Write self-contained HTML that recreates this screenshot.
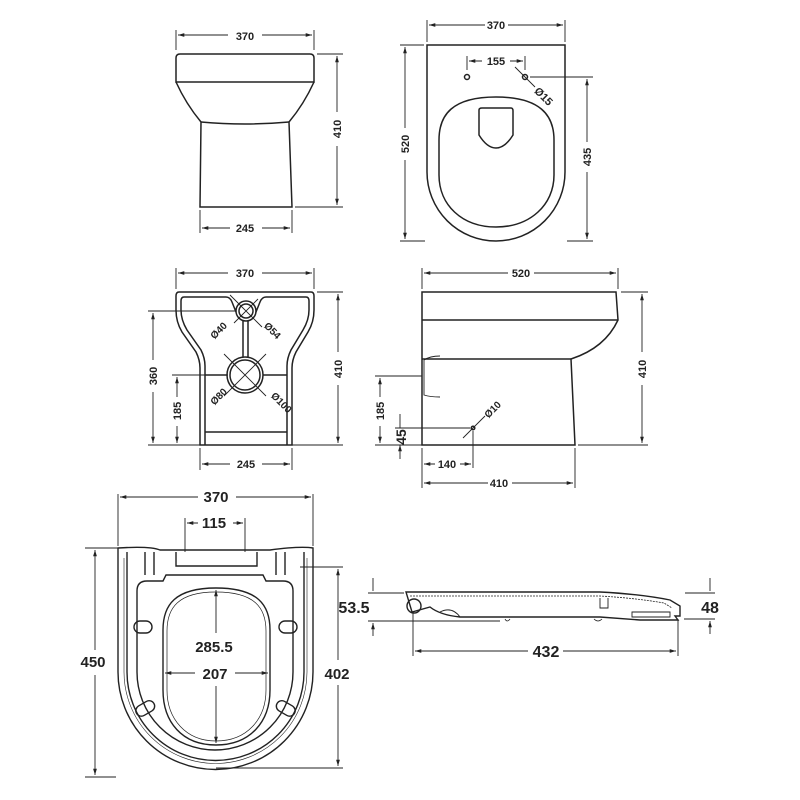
<!DOCTYPE html>
<html><head><style>
body{margin:0;background:#fff}
svg{display:block}
text{font-family:"Liberation Sans",sans-serif;font-weight:bold;fill:#222}
</style></head><body>
<svg width="800" height="800" viewBox="0 0 800 800" xmlns="http://www.w3.org/2000/svg">
<defs>
<marker id="a" viewBox="0 0 10 10" refX="10" refY="5" markerWidth="7" markerHeight="7" orient="auto-start-reverse"><path d="M0,2 L10,5 L0,8z" fill="#222"/></marker>
</defs>
<g stroke="#222" stroke-width="1.5" fill="none">
<path d="M180,54 H310 Q314,54 314,58 V82 H176 V58 Q176,54 180,54 Z"/>
<path d="M176,82 Q186,104 201,122 L200,207 H292 L289,122 Q304,104 314,82"/>
<path d="M201,122 Q245,126 289,122"/>
</g>
<g stroke="#222" stroke-width="0.9" fill="none">
<path d="M176,30 V50 M314,30 V50"/>
<path d="M178,35 H228 M262,35 H312" marker-start="url(#a)" marker-end="url(#a)"/>
<path d="M317,54 H343 M295,207 H343"/>
<path d="M337,56 V112 M337,146 V205" marker-start="url(#a)" marker-end="url(#a)"/>
<path d="M200,210 V233 M292,210 V233"/>
<path d="M202,228 H230 M262,228 H290" marker-start="url(#a)" marker-end="url(#a)"/>
</g>
<text x="245" y="40" font-size="11" text-anchor="middle">370</text>
<text x="245" y="232" font-size="11" text-anchor="middle">245</text>
<text transform="translate(341,129) rotate(-90)" font-size="11" text-anchor="middle">410</text>

<g stroke="#222" stroke-width="1.5" fill="none">
<path d="M427,45 H565 V172 A69,69 0 0 1 427,172 Z"/>
<path d="M496,97 C540,97 554,115 554,140 V175 C554,205 530,227 496,227 C462,227 439,205 439,175 V140 C439,115 452,97 496,97 Z"/>
<path d="M479,110 Q479,108 482,108 H511 Q513,108 513,111 V135 Q505,148 496,148 Q487,148 479,135 Z"/>
<circle cx="467" cy="77" r="2.5"/><circle cx="525" cy="77" r="2.5"/>
</g>
<g stroke="#222" stroke-width="0.9" fill="none">
<path d="M427,20 V42 M565,20 V42"/>
<path d="M429,25 H485 M508,25 H563" marker-start="url(#a)" marker-end="url(#a)"/>
<path d="M467,56 V70 M525,56 V70"/>
<path d="M469,61 H482 M510,61 H523" marker-start="url(#a)" marker-end="url(#a)"/>
<path d="M515,67 L535,87"/>
<path d="M400,45 H424 M400,241 H425"/>
<path d="M405,47 V128 M405,160 V239" marker-start="url(#a)" marker-end="url(#a)"/>
<path d="M530,77 H593 M567,241 H593"/>
<path d="M587,79 V142 M587,172 V239" marker-start="url(#a)" marker-end="url(#a)"/>
</g>
<text x="496" y="29" font-size="11" text-anchor="middle">370</text>
<text x="496" y="65" font-size="11" text-anchor="middle">155</text>
<text transform="translate(541,99) rotate(45)" font-size="11" text-anchor="middle">Ø15</text>
<text transform="translate(409,144) rotate(-90)" font-size="11" text-anchor="middle">520</text>
<text transform="translate(591,157) rotate(-90)" font-size="11" text-anchor="middle">435</text>

<g stroke="#222" stroke-width="1.5" fill="none">
<path d="M179,292 H311 Q314,292 314,296 V310 Q314,322 308,332 L296,352 Q292,360 292,368 V445 H200 V368 Q200,360 196,352 L182,332 Q176,322 176,310 V296 Q176,292 179,292 Z"/>
<path d="M184,297 H226 Q230,297 232,302 L236,312 M256,312 L260,302 Q262,297 266,297 H306 Q309,297 309,301 V310 Q309,320 303,330 L291,350 Q287,358 287,366 V445 M205,445 V366 Q205,358 201,350 L187,330 Q181,320 181,310 V301 Q181,297 184,297"/>
<path d="M205,432 H287"/>
<circle cx="246" cy="311" r="10"/><circle cx="246" cy="311" r="7"/>
<circle cx="245" cy="375" r="18"/><circle cx="245" cy="375" r="15"/>
<path d="M243,321 V357 M248,321 V357"/>
<path d="M205,375 H227 M263,375 H287"/>
</g>
<g stroke="#222" stroke-width="0.9" fill="none">
<path d="M234,299 L258,323 M258,299 L234,323 M230,295 L262,327"/>
<path d="M224,354 L266,396 M266,354 L224,396"/>
<path d="M176,268 V289 M314,268 V289"/>
<path d="M178,273 H228 M262,273 H312" marker-start="url(#a)" marker-end="url(#a)"/>
<path d="M148,311 H236 M172,375 H228 M148,445 H200 M292,445 H343 M317,292 H343"/>
<path d="M153,313 V360 M153,392 V443" marker-start="url(#a)" marker-end="url(#a)"/>
<path d="M177,377 V397 M177,426 V443" marker-start="url(#a)" marker-end="url(#a)"/>
<path d="M338,294 V352 M338,385 V443" marker-start="url(#a)" marker-end="url(#a)"/>
<path d="M200,448 V470 M292,448 V470"/>
<path d="M202,464 H230 M262,464 H290" marker-start="url(#a)" marker-end="url(#a)"/>
</g>
<text x="245" y="277" font-size="11" text-anchor="middle">370</text>
<text x="246" y="468" font-size="11" text-anchor="middle">245</text>
<text transform="translate(157,376) rotate(-90)" font-size="11" text-anchor="middle">360</text>
<text transform="translate(181,411) rotate(-90)" font-size="11" text-anchor="middle">185</text>
<text transform="translate(342,369) rotate(-90)" font-size="11" text-anchor="middle">410</text>
<text transform="translate(221,333) rotate(-45)" font-size="10" text-anchor="middle">Ø40</text>
<text transform="translate(270,333) rotate(45)" font-size="10" text-anchor="middle">Ø54</text>
<text transform="translate(221,399) rotate(-45)" font-size="10" text-anchor="middle">Ø80</text>
<text transform="translate(279,405) rotate(45)" font-size="10" text-anchor="middle">Ø100</text>

<g stroke="#222" stroke-width="1.5" fill="none">
<path d="M422,292 H616 L618,320 Q605,348 571,359 L575,445 H422 Z"/>
<path d="M422,320 H618 M422,359 H571"/>
<path d="M424,360 Q430,356 440,356 M424,360 V395 Q430,397 440,397" stroke-width="0.9"/>
<circle cx="473" cy="428" r="1.8"/>
</g>
<g stroke="#222" stroke-width="0.9" fill="none">
<path d="M422,268 V289 M618,268 V289"/>
<path d="M424,273 H508 M534,273 H616" marker-start="url(#a)" marker-end="url(#a)"/>
<path d="M621,292 H648 M578,445 H648"/>
<path d="M642,294 V352 M642,385 V443" marker-start="url(#a)" marker-end="url(#a)"/>
<path d="M375,376 H422 M375,445 H422 M395,428 H470"/>
<path d="M380,378 V397 M380,426 V443" marker-start="url(#a)" marker-end="url(#a)"/>
<path d="M400,414 V428 M400,459 V445" marker-end="url(#a)"/>
<path d="M463,438 L485,416"/>
<path d="M422,448 V488 M473,431 V468 M575,448 V488"/>
<path d="M424,464 H435 M460,464 H471" marker-start="url(#a)" marker-end="url(#a)"/>
<path d="M424,483 H488 M512,483 H573" marker-start="url(#a)" marker-end="url(#a)"/>
</g>
<text x="521" y="277" font-size="11" text-anchor="middle">520</text>
<text x="447" y="468" font-size="11" text-anchor="middle">140</text>
<text x="499" y="487" font-size="11" text-anchor="middle">410</text>
<text transform="translate(646,369) rotate(-90)" font-size="11" text-anchor="middle">410</text>
<text transform="translate(384,411) rotate(-90)" font-size="11" text-anchor="middle">185</text>
<text transform="translate(406,437) rotate(-90)" font-size="14" text-anchor="middle" font-weight="normal">45</text>
<text transform="translate(495,412) rotate(-45)" font-size="10" text-anchor="middle">Ø10</text>

<g stroke="#222" stroke-width="1.4" fill="none">
<path d="M118,548 Q150,546 160,550 H270 Q300,546 313,548 V672 A97.5,97.5 0 0 1 118,672 Z"/>
<path d="M127,552 V672 A88,88 0 0 0 304,672 V552"/>
<path d="M124,558 V672 A91,91 0 0 0 307,672 V558" stroke-width="0.6"/>
<path d="M147,581 Q137,581 137,591 V672 A78,78 0 0 0 293,672 V591 Q293,581 283,581 H266 L263,575 H166 L163,581 Z"/>
<path d="M145,552 V575 M154,552 V575 M276,552 V575 M285,552 V575"/>
<path d="M176,552 V566 H257 V552"/>
<path d="M216,588 C258,588 270,605 270,630 V690 C270,722 250,745 216,745 C182,745 163,722 163,690 V630 C163,605 175,588 216,588 Z"/>
<path d="M216,592 C255,592 266,608 266,631 V690 C266,719 247,741 216,741 C186,741 167,719 167,690 V631 C167,608 178,592 216,592 Z" stroke-width="0.7"/>
<rect x="134" y="621" width="18" height="12" rx="6"/>
<rect x="279" y="621" width="18" height="12" rx="6"/>
<rect x="135" y="703" width="20" height="11" rx="5.5" transform="rotate(-30 145 708)"/>
<rect x="276" y="703" width="20" height="11" rx="5.5" transform="rotate(30 286 708)"/>
</g>
<g stroke="#222" stroke-width="0.9" fill="none">
<path d="M118,494 V546 M313,494 V546"/>
<path d="M120,497 H198 M236,497 H311" marker-start="url(#a)" marker-end="url(#a)"/>
<path d="M185,518 V552 M245,518 V552"/>
<path d="M187,523 H198 M233,523 H243" marker-start="url(#a)" marker-end="url(#a)"/>
<path d="M85,548 H118 M85,777 H116 M300,567 H343 M216,768 H343"/>
<path d="M95,550 V650 M95,675 V775" marker-start="url(#a)" marker-end="url(#a)"/>
<path d="M338,569 V660 M338,685 V766" marker-start="url(#a)" marker-end="url(#a)"/>
<path d="M216,590 V633 M216,686 V743" marker-start="url(#a)" marker-end="url(#a)"/>
<path d="M165,673 H195 M235,673 H268" marker-start="url(#a)" marker-end="url(#a)"/>
</g>
<text x="216" y="502" font-size="15" text-anchor="middle" font-weight="normal">370</text>
<text x="214" y="528" font-size="15" text-anchor="middle" font-weight="normal">115</text>
<text x="93" y="667" font-size="15" text-anchor="middle" font-weight="normal">450</text>
<text x="337" y="679" font-size="15" text-anchor="middle" font-weight="normal">402</text>
<text x="214" y="652" font-size="15" text-anchor="middle" font-weight="normal">285.5</text>
<text x="215" y="679" font-size="15" text-anchor="middle" font-weight="normal">207</text>

<g stroke="#222" stroke-width="1.4" fill="none">
<path d="M406,592 H600 Q640,594 670,600 L680,606 V616 H675 L678,620 H640 L600,617 H460 Q440,615 430,607 L412,612 Z"/>
<path d="M410,596 H600 Q635,598 664,603 L672,608" stroke-width="0.8" stroke-dasharray="2,1"/>
<path d="M600,598 V608 H608 V598" stroke-width="0.9"/>
<circle cx="414" cy="606" r="7"/>
<path d="M632,612 H670 V617 H632 Z" stroke-width="0.9"/>
<path d="M440,612 Q452,606 460,617" stroke-width="0.9"/>
<path d="M505,619 Q507,623 510,619 M594,619 Q598,623 602,619" stroke-width="0.8"/>
</g>
<g stroke="#222" stroke-width="0.9" fill="none">
<path d="M368,593 H404 M368,621 H500 M685,593 H715 M684,619 H715"/>
<path d="M373,578 V591 M373,636 V623" marker-end="url(#a)"/>
<path d="M710,578 V591 M710,634 V621" marker-end="url(#a)"/>
<path d="M413,612 V656 M678,619 V656"/>
<path d="M415,651 H528 M563,651 H676" marker-start="url(#a)" marker-end="url(#a)"/>
</g>
<text x="354" y="613" font-size="16" text-anchor="middle" font-weight="normal">53.5</text>
<text x="710" y="613" font-size="16" text-anchor="middle" font-weight="normal">48</text>
<text x="546" y="657" font-size="16" text-anchor="middle" font-weight="normal">432</text>
</svg>
</body></html>
